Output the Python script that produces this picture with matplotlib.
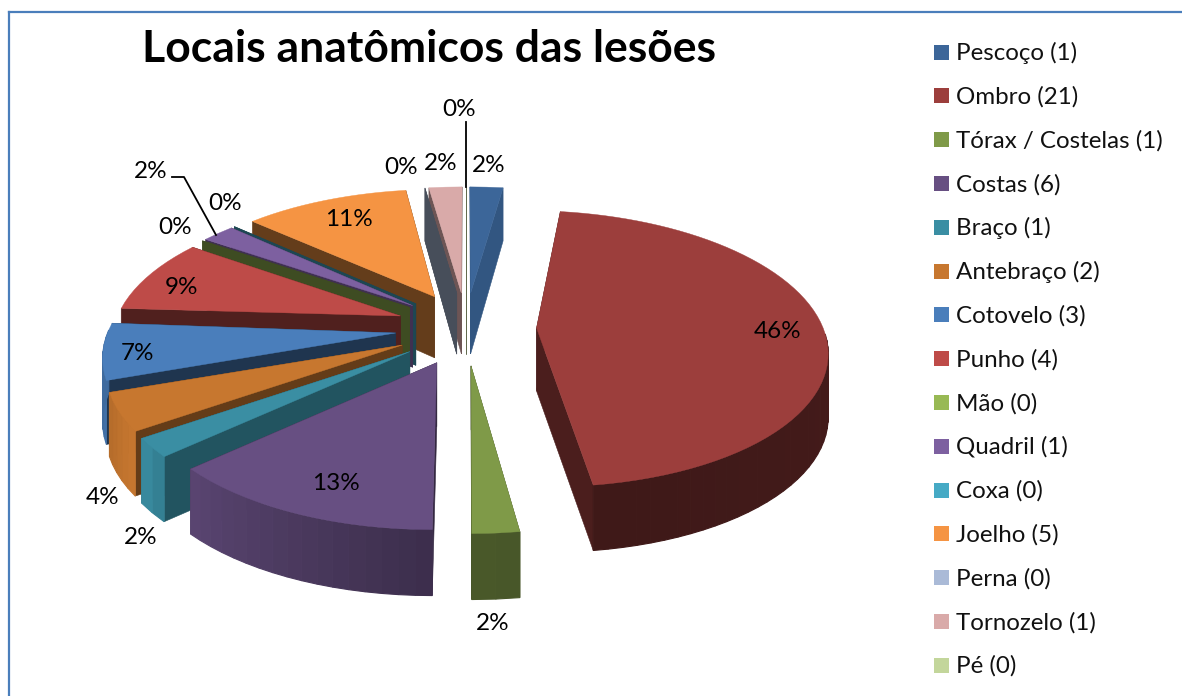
import numpy as np
import matplotlib
matplotlib.use('Agg')
import matplotlib.pyplot as plt
from matplotlib.patches import Polygon, Rectangle

# data
title = 'Locais anatômicos das lesões'
names = ['Pescoço', 'Ombro', 'Tórax / Costelas', 'Costas', 'Braço', 'Antebraço', 'Cotovelo', 'Punho',
         'Mão', 'Quadril', 'Coxa', 'Joelho', 'Perna', 'Tornozelo', 'Pé']
values = [1, 21, 1, 6, 1, 2, 3, 4, 0, 1, 0, 5, 0, 1, 0]

colors = ['#3c6699', '#9c3e3c', '#7f9a48', '#674f82', '#3a8ea3', '#c7772f', '#4a7ebb', '#be4b48',
          '#98b954', '#7d60a0', '#46aac5', '#f59443', '#aabad7', '#d9aaa9', '#c3d69b']
# how dark the flat cut side of each slice is
cut_shades = [.84, .48, .5, .5, .59, .5, .42, .42, .41, .5, .42, .41, .42, .5, .5]

# where the percent labels sit (pixels)
label_x = [489, 778, 493, 336, 141, 103, 137, 181, 175, 151, 225, 349, 401, 441, 459]
label_y = [166, 331, 624, 483, 538, 498, 353, 288, 228, 171, 204, 220, 168, 164, 110]

# pie geometry, in pixels
cx, cy = 466, 328
rx, ry = 288, 135
persp = .15
rim_explode = .24
tip_explode_x, tip_explode_y = .245, .27


def project(x, y, drop=0):
    w = 1 + persp * y
    depth = np.interp(y, [-1.24, 0, 1.24], [66, 63, 53])
    return cx + rx * x / w, cy - ry * y / w + drop * depth


def darker(col, f):
    rgb = np.array(matplotlib.colors.to_rgb(col))
    return tuple(rgb * f)


def rim_shade(deg):
    return np.interp(deg, [0, 90, 172.5, 173, 180, 227, 235, 260, 360],
                     [.8, .44, .40, .56, .58, .87, 1.0, .85, .8])


fig = plt.figure(figsize=(11.82, 6.96), dpi=100)
ax = fig.add_axes([0, 0, 1, 1])
ax.set_xlim(0, 1182)
ax.set_ylim(696, 0)
ax.axis('off')
plt.rcParams['font.family'] = ['Lato', 'DejaVu Sans']

# frame of the chart, cut off at the top and left
ax.plot([9, 9], [696, 12], color='#4a7ebb', lw=1.6)
ax.plot([9, 1182], [12, 12], color='#4a7ebb', lw=1.6)

total = sum(values)
edges = np.cumsum([0] + values) / total * 360
mids = (edges[:-1] + edges[1:]) / 2
order = list(np.argsort(-np.cos(np.radians(mids)), kind='stable'))

for i in order:
    z = 2 + order.index(i) * .01
    a0, a1 = edges[i], edges[i + 1]
    mid = np.radians(mids[i])
    ox, oy = rim_explode * np.sin(mid), rim_explode * np.cos(mid)
    tx, ty = tip_explode_x * np.sin(mid), tip_explode_y * np.cos(mid)
    ang = np.linspace(a0, a1, max(2, int((a1 - a0) / 2.5)))
    xs = ox + np.sin(np.radians(ang))
    ys = oy + np.cos(np.radians(ang))

    # two flat cut sides
    wall = darker(colors[i], cut_shades[i])
    for k in [0, -1]:
        pts = [project(tx, ty), project(xs[k], ys[k]), project(xs[k], ys[k], 1), project(tx, ty, 1)]
        ax.add_patch(Polygon(pts, closed=True, fc=wall, ec=wall, lw=.4, zorder=z))

    # round outer side, in small strips for the shading
    for k in range(len(ang) - 1):
        if np.cos(np.radians(ang[k])) < 0:
            pts = [project(xs[k], ys[k]), project(xs[k + 1], ys[k + 1]),
                   project(xs[k + 1], ys[k + 1], 1), project(xs[k], ys[k], 1)]
            c = darker(colors[i], rim_shade((ang[k] + ang[k + 1]) / 2))
            ax.add_patch(Polygon(pts, closed=True, fc=c, ec=c, lw=.8, zorder=z))

    # top
    if values[i] > 0:
        pts = [project(tx, ty)] + [project(a, b) for a, b in zip(xs, ys)]
        ax.add_patch(Polygon(pts, closed=True, fc=colors[i], ec=colors[i], lw=.3, zorder=z))

# percent labels
for i in range(len(values)):
    ax.text(label_x[i], label_y[i], '%d%%' % round(values[i] / total * 100),
            ha='center', va='center', fontsize=17.5, color='black', zorder=5)

# leader lines
ax.plot([466, 466], [122, 187], color='black', lw=1.3, zorder=5)
ax.plot([172, 184, 216], [177, 177, 235], color='black', lw=1.3, zorder=5)

# title
ax.text(429, 49, title, ha='center', va='center', fontsize=32, fontweight='bold', color='black')

# legend
for i in range(len(names)):
    y = 52 + i * 43.8
    ax.add_patch(Rectangle((934, y - 7.5), 15, 15, fc=colors[i], ec='none'))
    ax.text(956, y + 1, '%s (%d)' % (names[i], values[i]), ha='left', va='center', fontsize=17.4, color='#111111')

fig.savefig('out.png', dpi=100)
